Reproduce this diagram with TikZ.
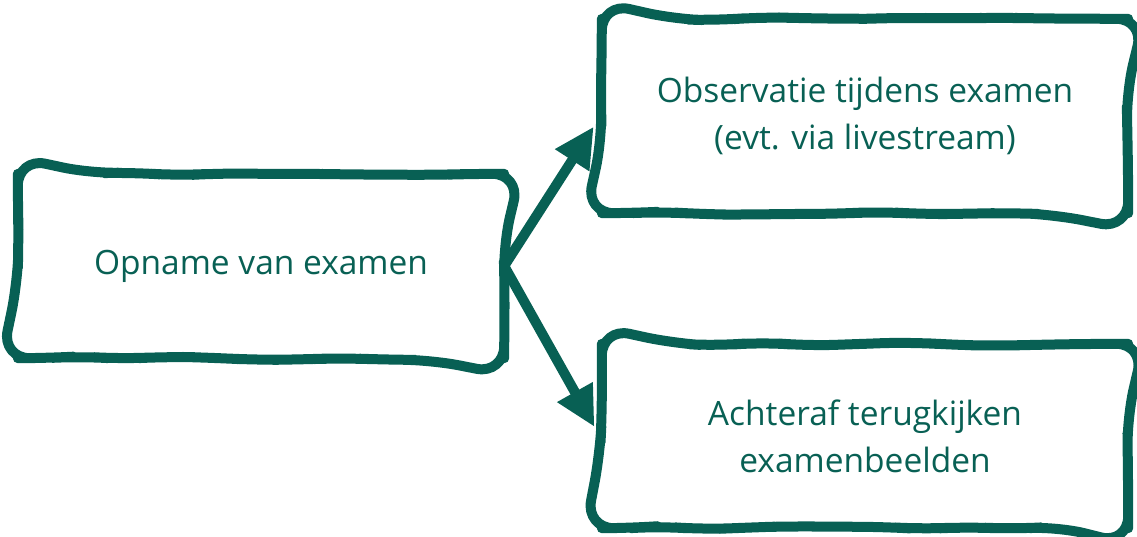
\documentclass[tikz,border=0pt]{standalone}
\usepackage{fontspec}
\setmainfont{Open Sans}
\usetikzlibrary{arrows.meta,decorations.pathmorphing}
\definecolor{examgreen}{RGB}{8,96,84}
\begin{document}
\begin{tikzpicture}[x=1pt,y=-1pt]

%
% Styles
%
\tikzstyle{vak} = [rectangle,text=examgreen,align=center,
  font=\fontsize{33.5}{47}\selectfont,inner sep=0pt]
\tikzstyle{wobble} = [draw=examgreen,line width=10pt,rounded corners=28pt,line join=round,
  decorate,decoration={random steps,segment length=44pt,amplitude=2.2pt}]
\tikzstyle{flow} = [draw=examgreen,line width=10pt,shorten >=15pt,
  -{Triangle[length=40pt,width=38pt]}]

\pgfmathsetseed{11}
\useasboundingbox (0,0) rectangle (1137,537);

\node[vak,minimum width=486pt,minimum height=184pt] (opname)   at ( 261,266) {Opname van examen};
\node[vak,minimum width=526pt,minimum height=194pt] (obs)      at ( 865,116) {Observatie tijdens examen\\(evt. via livestream)};
\node[vak,minimum width=526pt,minimum height=184pt] (achteraf) at ( 865,436) {Achteraf terugkijken\\examenbeelden};

\foreach \b in {opname,obs,achteraf}
  \draw[wobble] (\b.north) -| (\b.south east) -| (\b.north west) -- (\b.north);

\draw[flow] (opname.east) -- (obs.west |- 0,114);
\draw[flow] (opname.east) -- (achteraf.west |- 0,440);

\end{tikzpicture}
\end{document}
